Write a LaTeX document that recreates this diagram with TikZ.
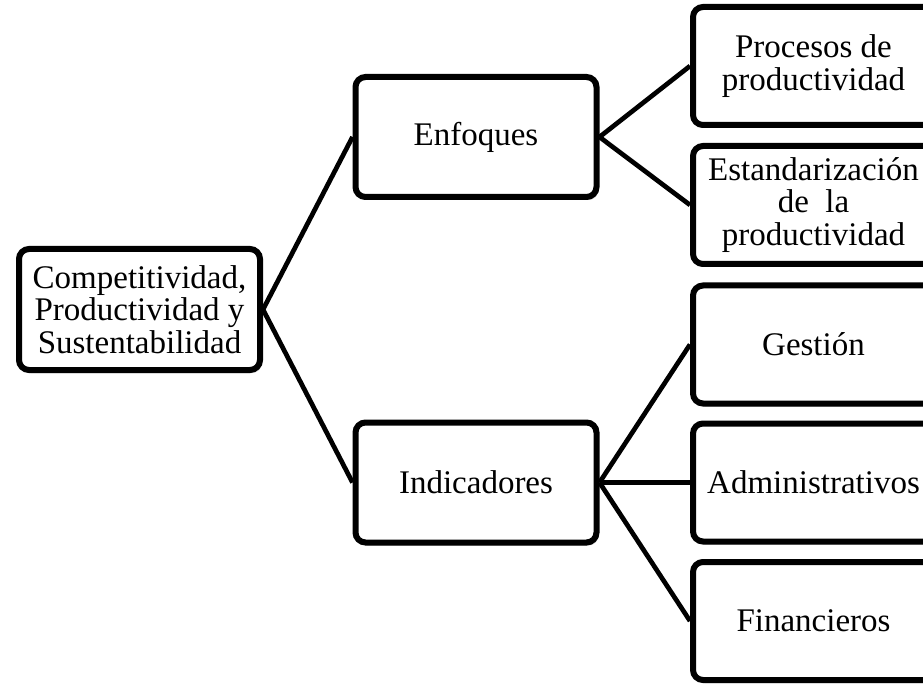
\documentclass[tikz,border=0pt]{standalone}
\usepackage{fontspec}
\setmainfont{Liberation Serif}
\usetikzlibrary{shadows,backgrounds}
\begin{document}
\begin{tikzpicture}[x=1pt,y=-1pt,
  box/.style={draw=black, line width=6pt, rounded corners=10pt, fill=white,
    minimum width=241pt, minimum height=118pt, align=center, inner sep=0pt,
    font=\fontsize{33}{32.5}\selectfont,
    drop shadow={shadow xshift=2pt, shadow yshift=-3pt, fill=black, opacity=0.18}},
  link/.style={line width=4.7pt, draw=black}]
\useasboundingbox (0,0) rectangle (923,684);
\clip (0,0) rectangle (923,684);

\node[box, minimum height=121pt] (root) at (139.5,309.5) {Competitividad,\\Productividad y\\Sustentabilidad};
\node[box, minimum height=120pt] (enf) at (476,137) {Enfoques};
\node[box, minimum height=120pt] (ind) at (476,482.5) {Indicadores};

\node[box] (proc) at (813.5,66) {Procesos de\\productividad};
\node[box] (est) at (813.5,205) {Estandarización\\de~~la\\productividad};
\node[box] (ges) at (813.5,344.5) {Gestión};
\node[box] (adm) at (813.5,482.5) {Administrativos};
\node[box] (fin) at (813.5,621) {Financieros};

\begin{pgfonlayer}{background}
\fill[white] (0,0) rectangle (923,684);
\draw[link] (root.east) -- (enf.west);
\draw[link] (root.east) -- (ind.west);
\draw[link] (enf.east) -- (proc.west);
\draw[link] (enf.east) -- (est.west);
\draw[link] (ind.east) -- (ges.west);
\draw[link] (ind.east) -- (adm.west);
\draw[link] (ind.east) -- (fin.west);
\end{pgfonlayer}
\end{tikzpicture}
\end{document}
